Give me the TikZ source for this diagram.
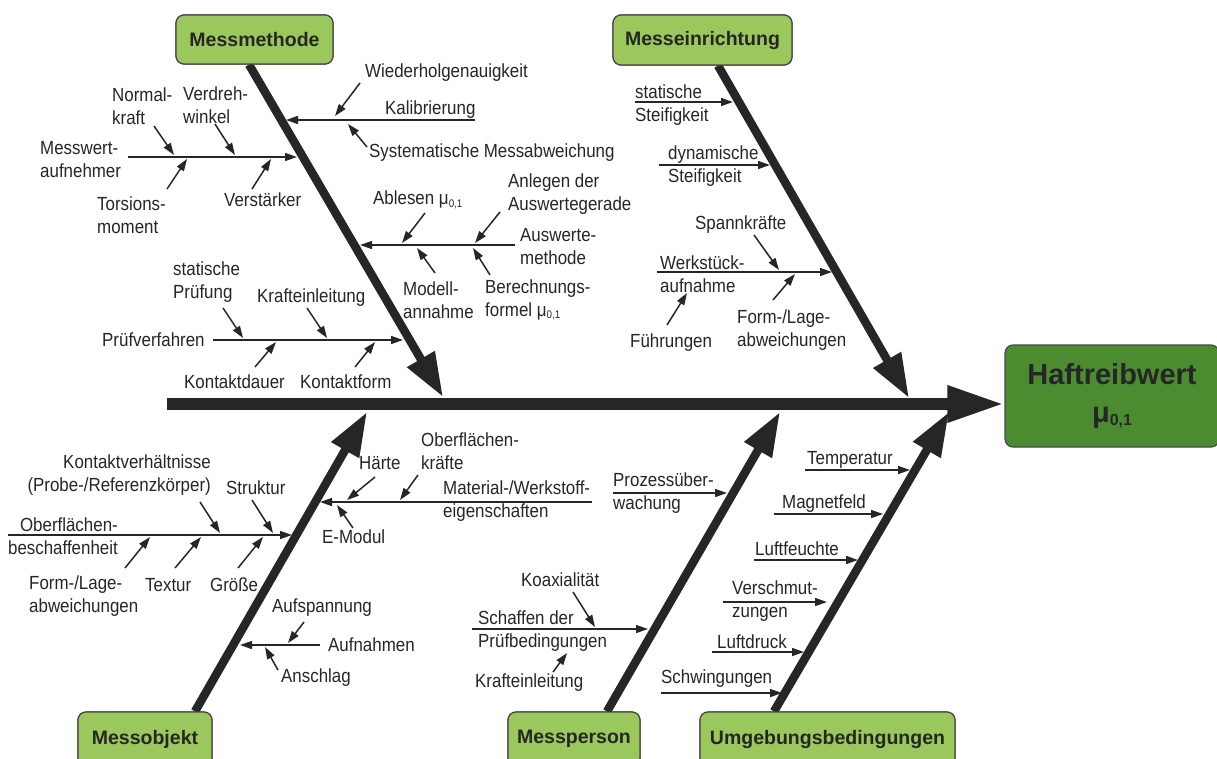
\documentclass[tikz,border=0pt]{standalone}
\usepackage{fontspec}
\setmainfont{Liberation Sans}[FakeStretch=0.89]
\newfontfamily\labfont{Liberation Sans}
\usetikzlibrary{arrows.meta,calc}
\definecolor{lg}{RGB}{155,200,92}
\definecolor{dg}{RGB}{76,140,48}
\definecolor{ink}{RGB}{38,38,38}
\newcommand{\mysub}[1]{\raisebox{-2.5pt}{\fontsize{11}{11}\selectfont #1}}
\newcommand{\bigsub}[1]{\raisebox{-3pt}{\fontsize{16}{16}\selectfont #1}}
\newcommand{\arr}[3]{\coordinate (#1s) at (#2); \coordinate (#1e) at (#3); \draw[ar] (#1s) -- (#1e);}
\begin{document}
\begin{tikzpicture}[x=1pt,y=-1pt,
  font=\fontsize{19}{23}\selectfont,
  txt/.style={inner sep=0pt, text=ink, anchor=west},
  branch/.style={draw=ink, line width=1.5pt},
  ar/.style={branch, -{Triangle[length=12pt,width=8pt]}},
  bone/.style={draw=ink, line width=8.5pt, -{Triangle[length=44pt,width=30pt]}},
  cat/.style={draw=ink!85, line width=1.2pt, fill=lg, rounded corners=8pt, inner sep=0pt,
    font=\labfont\bfseries\fontsize{19.5}{23}\selectfont, text=ink},
  fx/.style={draw=ink!85, line width=1.2pt, fill=dg, rounded corners=8pt, inner sep=0pt,
    align=center, font=\labfont\bfseries\fontsize{29}{38}\selectfont, text=ink}
]
\clip (0,0) rectangle (1217,758);
\fill[white] (0,0) rectangle (1217,758);

% boxes (positions)
\node[cat, minimum width=157pt, minimum height=49pt] (mm) at (254.5,39.5) {Messmethode};
\node[cat, minimum width=179pt, minimum height=50pt] (me) at (702.5,40) {Messeinrichtung};
\node[cat, minimum width=134pt, minimum height=54pt] (mo) at (145,739) {Messobjekt};
\node[cat, minimum width=132pt, minimum height=54pt] (mp) at (574,739) {Messperson};
\node[cat, minimum width=255pt, minimum height=54pt] (ub) at (827.5,739) {Umgebungsbedingungen};
\node[fx, minimum width=214pt, minimum height=102pt] (eff) at (1112,396) {Haftreibwert\\ μ\bigsub{0,1}};

% spine and bones
\coordinate (spS) at (167,404);
\coordinate (spE) at (spS -| eff.west);
\draw[draw=ink, line width=12pt, -{Triangle[length=57pt,width=34pt]}] (spS) -- (spE);
\coordinate (mmS) at ([xshift=-5.5pt]mm.south);
\coordinate (mmE) at (443,397);
\draw[bone] (mmS) -- (mmE);
\coordinate (meS) at ([xshift=15.5pt]me.south);
\coordinate (meE) at (909,398);
\draw[bone] (meS) -- (meE);
\coordinate (moS) at ([xshift=50pt]mo.north);
\coordinate (moE) at (367,412);
\draw[bone] (moS) -- (moE);
\coordinate (mpS) at ([xshift=33pt]mp.north);
\coordinate (mpE) at (780,412);
\draw[bone] (mpS) -- (mpE);
\coordinate (ubS) at ([xshift=-53.5pt]ub.north);
\coordinate (ubE) at (949,412);
\draw[bone] (ubS) -- (ubE);

% redraw boxes on top of bone ends
\node[cat, minimum width=157pt, minimum height=49pt] at (mm) {Messmethode};
\node[cat, minimum width=179pt, minimum height=50pt] at (me) {Messeinrichtung};
\node[cat, minimum width=134pt, minimum height=54pt] at (mo) {Messobjekt};
\node[cat, minimum width=132pt, minimum height=54pt] at (mp) {Messperson};
\node[cat, minimum width=255pt, minimum height=54pt] at (ub) {Umgebungsbedingungen};

% ---------- Messmethode ----------
\arr{kal}{475,120}{286,120}
\arr{wie}{360,83}{335,116}
\arr{sys}{367,147}{348,124}
\node[txt] (tWie) at (365,73) {Wiederholgenauigkeit};
\node[txt] (tKal) at (385,110) {Kalibrierung};
\node[txt] (tSys) at (369,153) {Systematische Messabweichung};

\arr{mwa}{128,157}{297,157}
\arr{nk}{154,126}{174,155}
\arr{vw}{215,124}{235,155}
\arr{tm}{167,189}{187,159}
\arr{vs}{252,189}{271,159}
\node[txt, align=left] (tMwa) at (40,160) {Messwert-\\aufnehmer};
\node[txt, align=left] (tNk) at (112,106) {Normal-\\kraft};
\node[txt, align=left] (tVw) at (183,105) {Verdreh-\\winkel};
\node[txt, align=left] (tTm) at (97,215) {Torsions-\\moment};
\node[txt] (tVs) at (224,200) {Verstärker};

\arr{awm}{515,245}{360,245}
\arr{anl}{500,212}{475,243}
\arr{abl}{425,213}{402,243}
\arr{mod}{435,273}{417,248}
\arr{ber}{490,275}{473,248}
\node[txt, align=left] (tAnl) at (508,194.5) {Anlegen der\\Auswertegerade};
\node[txt] (tAbl) at (373,200) {Ablesen μ\mysub{0,1}};
\node[txt, align=left] (tAwm) at (520,246.5) {Auswerte-\\methode};
\node[txt, align=left] (tMod) at (403,300) {Modell-\\annahme};
\node[txt, align=left] (tBer) at (485,300) {Berechnungs-\\formel μ\mysub{0,1}};

\arr{pv}{213,340}{403,340}
\arr{sp}{223,308}{243,338}
\arr{ke}{307,308}{327,338}
\arr{kd}{255,367}{276,342}
\arr{kf}{355,367}{375,342}
\node[txt, align=left] (tSp) at (173,282) {statische\\Prüfung};
\node[txt] (tKe) at (257,298) {Krafteinleitung};
\node[txt] (tPv) at (102,340) {Prüfverfahren};
\node[txt] (tKd) at (184,382) {Kontaktdauer};
\node[txt] (tKf) at (300,382) {Kontaktform};

% ---------- Messeinrichtung ----------
\arr{ss}{635,102}{733,102}
\arr{ds}{659,165}{770,165}
\arr{wa}{657,272}{832,272}
\arr{spk}{754,235}{779,270}
\arr{fl}{773,300}{795,274}
\arr{fu}{667,325}{687,293}
\node[txt, align=left] (tSs) at (635,105) {statische\\Steifigkeit};
\node[txt, align=left] (tDs) at (668,166.5) {dynamische\\Steifigkeit};
\node[txt] (tSpk) at (695,225) {Spannkräfte};
\node[txt, align=left] (tWa) at (660,274) {Werkstück-\\aufnahme};
\node[txt, align=left] (tFl) at (737,330.5) {Form-/Lage-\\abweichungen};
\node[txt] (tFu) at (630,343) {Führungen};

% ---------- Messobjekt ----------
\arr{ob}{8,535}{292,535}
\arr{kv}{200,502}{220,533}
\arr{st}{252,500}{273,533}
\arr{fo}{125,568}{150,537}
\arr{tx}{175,568}{201,537}
\arr{gr}{238,568}{263,537}
\node[txt, anchor=east, align=right] (tOb) at (118,536) {Oberflächen-\\beschaffenheit};
\node[txt, anchor=east, align=right] (tKv) at (211,475.5) {Kontaktverhältnisse\\(Probe-/Referenzkörper)};
\node[txt] (tSt) at (226,488) {Struktur};
\node[txt, align=left] (tFo) at (29,596.5) {Form-/Lage-\\abweichungen};
\node[txt] (tTx) at (145,585) {Textur};
\node[txt] (tGr) at (210,585) {Größe};

\arr{auf}{320,645}{240,645}
\arr{asp}{304,622}{288,643}
\arr{ans}{278,670}{265,647}
\node[txt] (tAsp) at (272,608) {Aufspannung};
\node[txt] (tAuf) at (328,645) {Aufnahmen};
\node[txt] (tAns) at (281,678) {Anschlag};

\arr{mat}{592,502}{320,502}
\arr{ha}{375,477}{347,500}
\arr{okr}{418,475}{400,500}
\arr{em}{353,528}{337,505}
\node[txt] (tHa) at (359,463) {Härte};
\node[txt, align=left] (tOkr) at (421,451.5) {Oberflächen-\\kräfte};
\node[txt, align=left] (tMat) at (443,501) {Material-/Werkstoff-\\eigenschaften};
\node[txt] (tEm) at (322,537) {E-Modul};

% ---------- Messperson ----------
\arr{pz}{613,493}{727,493}
\arr{sdp}{472,629}{648,629}
\arr{ko}{573,592}{595,627}
\arr{kei}{553,672}{567,653}
\node[txt, align=left] (tPz) at (613,493.5) {Prozessüber-\\wachung};
\node[txt] (tKo) at (521,580) {Koaxialität};
\node[txt, align=left] (tSdp) at (478,631) {Schaffen der\\Prüfbedingungen};
\node[txt] (tKei) at (475,683) {Krafteinleitung};

% ---------- Umgebungsbedingungen ----------
\arr{te}{805,470}{910,470}
\arr{ma}{774,514}{883,514}
\arr{lf}{754,560}{858,560}
\arr{vz}{723,602}{827,602}
\arr{ld}{712,652}{804,652}
\arr{sw}{661,693}{782,693}
\node[txt] (tTe) at (807,460) {Temperatur};
\node[txt] (tMa) at (782,504) {Magnetfeld};
\node[txt] (tLf) at (755,549) {Luftfeuchte};
\node[txt, align=left] (tVz) at (732,601) {Verschmut-\\zungen};
\node[txt] (tLd) at (717,642) {Luftdruck};
\node[txt] (tSw) at (661,679) {Schwingungen};
\end{tikzpicture}
\end{document}
